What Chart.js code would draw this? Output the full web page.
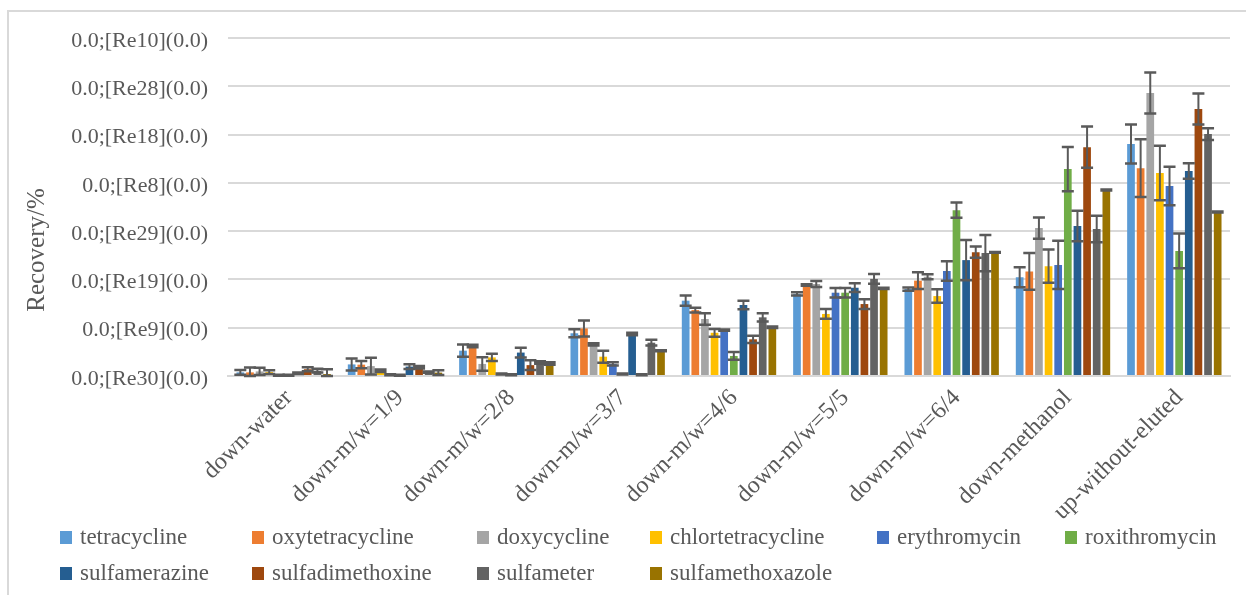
<!DOCTYPE html>
<html>
<head>
<meta charset="utf-8">
<script src="https://cdn.jsdelivr.net/npm/chart.js@4/dist/chart.umd.min.js"></script>
<style>
  html, body { margin: 0; padding: 0; background: #ffffff; }
  #wrap { position: relative; width: 1246px; height: 595px; }
</style>
</head>
<body>
<div id="wrap"><canvas id="c" width="1246" height="595"></canvas></div>
<script>
// Elution conditions along the x axis
const categories = ['down-water', 'down-m/w=1/9', 'down-m/w=2/8', 'down-m/w=3/7', 'down-m/w=4/6',
  'down-m/w=5/5', 'down-m/w=6/4', 'down-methanol', 'up-without-eluted'];

// Axis tick texts (value 0 .. 140, step 20)
const yTickLabels = ['0.0;[Re30](0.0)', '0.0;[Re9](0.0)', '0.0;[Re19](0.0)', '0.0;[Re29](0.0)',
  '0.0;[Re8](0.0)', '0.0;[Re18](0.0)', '0.0;[Re28](0.0)', '0.0;[Re10](0.0)'];

// Mean recovery (%) per compound, and its standard deviation
const tetracycline      = [1.5, 4.8, 10.5, 17.7, 31.2, 34.0, 36.0, 40.9, 96.1];
const tetracyclineErr   = [1.0, 2.5, 2.5, 1.7, 2.1, 0.7, 0.7, 4.1, 8.1];
const oxytetracycline    = [1.5, 4.7, 12.4, 19.7, 27.3, 37.7, 39.5, 43.3, 86.1];
const oxytetracyclineErr = [2.0, 1.5, 0.5, 3.3, 1.0, 0.3, 3.5, 7.6, 12.0];
const doxycycline      = [1.9, 4.1, 5.0, 13.1, 23.6, 38.1, 41.1, 61.3, 117.2];
const doxycyclineErr   = [1.5, 3.5, 2.8, 0.5, 2.4, 1.2, 1.0, 4.4, 8.5];
const chlortetracycline    = [1.6, 2.2, 7.7, 8.0, 17.9, 25.7, 33.1, 45.5, 84.1];
const chlortetracyclineErr = [0.8, 0.5, 1.5, 2.5, 1.6, 2.0, 2.8, 6.9, 11.3];
const erythromycin     = [0.3, 0.5, 0.8, 5.0, 19.0, 34.5, 43.5, 46.0, 78.7];
const erythromycinErr  = [0.2, 0.2, 0.2, 0.7, 0.3, 2.0, 4.0, 10.0, 8.0];
const roxithromycin    = [0.3, 0.3, 0.5, 0.8, 8.3, 34.5, 68.7, 85.7, 51.8];
const roxithromycinErr = [0.2, 0.2, 0.2, 0.2, 1.6, 2.0, 3.2, 9.2, 7.2];
const sulfamerazine    = [1.1, 3.9, 9.7, 17.4, 29.4, 36.6, 48.0, 62.1, 84.9];
const sulfamerazineErr = [0.3, 1.0, 2.0, 0.5, 1.8, 1.8, 8.3, 6.3, 3.2];
const sulfadimethoxine    = [2.8, 3.6, 4.5, 0.5, 15.2, 29.8, 51.3, 94.8, 110.6];
const sulfadimethoxineErr = [0.8, 0.5, 2.0, 0.2, 1.5, 2.0, 2.3, 8.5, 6.4];
const sulfameter       = [2.2, 1.6, 5.6, 13.8, 24.3, 40.2, 50.9, 60.9, 100.2];
const sulfameterErr    = [0.8, 0.3, 0.5, 1.2, 1.7, 2.0, 7.5, 5.5, 2.4];
const sulfamethoxazole    = [0.8, 1.4, 5.2, 10.5, 20.2, 36.3, 51.2, 77.0, 67.9];
const sulfamethoxazoleErr = [2.0, 1.0, 0.5, 0.2, 0.3, 0.3, 0.2, 0.2, 0.2];

const seriesNames = ['tetracycline', 'oxytetracycline', 'doxycycline', 'chlortetracycline', 'erythromycin',
  'roxithromycin', 'sulfamerazine', 'sulfadimethoxine', 'sulfameter', 'sulfamethoxazole'];
const seriesValues = [tetracycline, oxytetracycline, doxycycline, chlortetracycline, erythromycin,
  roxithromycin, sulfamerazine, sulfadimethoxine, sulfameter, sulfamethoxazole];
const seriesErrors = [tetracyclineErr, oxytetracyclineErr, doxycyclineErr, chlortetracyclineErr, erythromycinErr,
  roxithromycinErr, sulfamerazineErr, sulfadimethoxineErr, sulfameterErr, sulfamethoxazoleErr];
const seriesColors = ['#5B9BD5', '#ED7D31', '#A5A5A5', '#FFC000', '#4472C4',
  '#70AD47', '#255E91', '#9E480E', '#636363', '#997300'];

const textColor = '#595959';
const serif = '"Liberation Serif", "Times New Roman", serif';

// Frame around the whole chart
const framePlugin = {
  id: 'frame',
  beforeDraw(chart) {
    const ctx = chart.ctx;
    ctx.save();
    ctx.strokeStyle = '#d9d9d9';
    ctx.lineWidth = 2;
    ctx.beginPath();
    ctx.moveTo(8, 700);
    ctx.lineTo(8, 11);
    ctx.lineTo(1300, 11);
    ctx.stroke();
    ctx.restore();
  }
};

// Symmetric error bars with caps, placed through the chart's scales
const errorBarPlugin = {
  id: 'errorBars',
  afterDatasetsDraw(chart) {
    const ctx = chart.ctx;
    const y = chart.scales.y;
    ctx.save();
    ctx.strokeStyle = '#5a5a5a';
    chart.data.datasets.forEach((ds, di) => {
      const meta = chart.getDatasetMeta(di);
      meta.data.forEach((bar, i) => {
        const v = ds.data[i];
        const e = ds.errors[i];
        const yHi = y.getPixelForValue(v + e);
        const yLo = y.getPixelForValue(Math.max(0, v - e));
        const half = 6;
        ctx.lineWidth = 2;
        ctx.beginPath();
        ctx.moveTo(bar.x, yHi);
        ctx.lineTo(bar.x, yLo);
        ctx.stroke();
        ctx.lineWidth = 2.5;
        ctx.beginPath();
        ctx.moveTo(bar.x - half, yHi);
        ctx.lineTo(bar.x + half, yHi);
        ctx.moveTo(bar.x - half, yLo);
        ctx.lineTo(bar.x + half, yLo);
        ctx.stroke();
      });
    });
    ctx.restore();
  }
};

// Axis title and column-aligned legend
const annotatePlugin = {
  id: 'annotate',
  afterDraw(chart) {
    const ctx = chart.ctx;
    ctx.save();
    ctx.fillStyle = textColor;
    ctx.font = '25px ' + serif;
    ctx.textAlign = 'center';
    ctx.textBaseline = 'middle';
    ctx.translate(37, 250);
    ctx.rotate(-Math.PI / 2);
    ctx.fillText('Recovery/%', 0, 0);
    ctx.restore();

    const cols = [60, 252, 477, 650, 877, 1065];
    const rows = [537, 573];
    ctx.save();
    ctx.font = '23px ' + serif;
    ctx.textAlign = 'left';
    ctx.textBaseline = 'middle';
    chart.data.datasets.forEach((ds, i) => {
      const x = cols[i % 6];
      const yy = rows[Math.floor(i / 6)];
      ctx.fillStyle = ds.backgroundColor;
      ctx.fillRect(x, yy - 6, 12, 13);
      ctx.fillStyle = textColor;
      ctx.fillText(ds.label, x + 20, yy + 1);
    });
    ctx.restore();
  }
};

new Chart(document.getElementById('c'), {
  type: 'bar',
  data: {
    labels: categories,
    datasets: seriesNames.map((name, i) => ({
      label: name,
      data: seriesValues[i],
      errors: seriesErrors[i],
      backgroundColor: seriesColors[i],
      borderWidth: 0,
      categoryPercentage: 0.865,
      barPercentage: 0.8
    }))
  },
  options: {
    responsive: false,
    animation: false,
    events: [],
    layout: { padding: { left: 10, top: 38, right: 16, bottom: 0 } },
    plugins: { legend: { display: false }, tooltip: { enabled: false } },
    scales: {
      x: {
        grid: { display: false, drawTicks: false },
        border: { color: '#d9d9d9', width: 2 },
        ticks: {
          autoSkip: false, minRotation: 45, maxRotation: 45, labelOffset: 5,
          color: textColor, font: { family: serif, size: 24 }, padding: 8
        },
        afterFit(s) { s.height = 219; }
      },
      y: {
        min: 0, max: 140,
        grid: { color: '#d9d9d9', lineWidth: 2, drawTicks: false },
        border: { display: false },
        ticks: {
          stepSize: 20, labelOffset: 3,
          color: textColor, font: { family: serif, size: 22 }, padding: 20,
          callback: (v, i) => yTickLabels[i]
        },
        afterFit(s) { s.width = 218; }
      }
    }
  },
  plugins: [framePlugin, errorBarPlugin, annotatePlugin]
});
</script>
</body>
</html>
